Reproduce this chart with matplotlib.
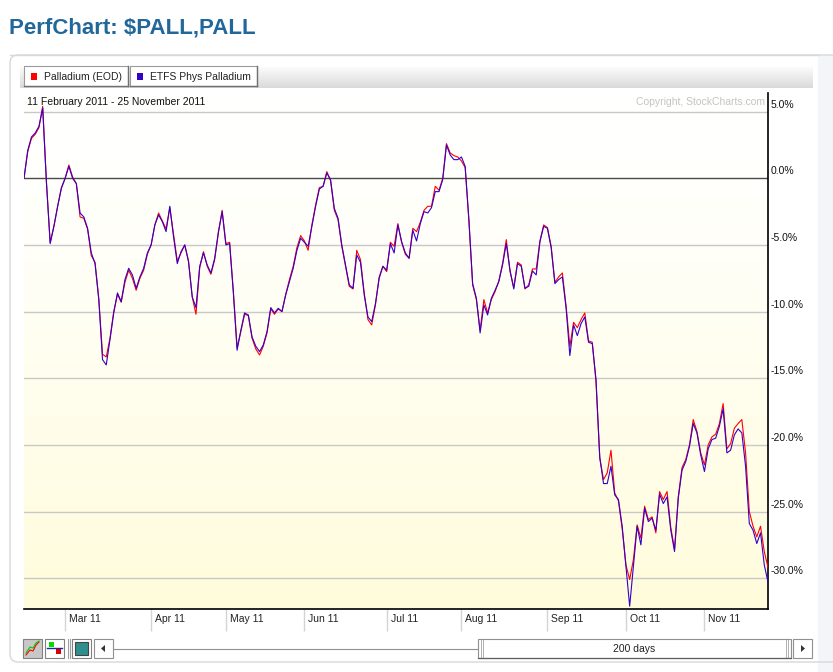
import numpy as np
import pandas as pd
import matplotlib
matplotlib.use("Agg")
import matplotlib.pyplot as plt
from matplotlib.patches import Rectangle, FancyBboxPatch, Polygon
from matplotlib.transforms import offset_copy
from matplotlib.colors import LinearSegmentedColormap

plt.rcParams['font.family'] = ['Liberation Sans', 'DejaVu Sans']

# ---------------- data ----------------
title = "PerfChart: $PALL,PALL"
series_names = ["Palladium (EOD)", "ETFS Phys Palladium"]
series_colors = ["#FF0000", "#3300CC"]
date_range_text = "11 February 2011 - 25 November 2011"
holidays = ["2011-02-21", "2011-04-22", "2011-05-30", "2011-07-04",
            "2011-09-05", "2011-11-24"]

palladium = [
    0.0, 2.0, 3.0, 3.3, 3.8, 5.4, -0.3, -4.8, -3.6, -2.1,
    -0.7, 0.0, 1.0, 0.1, -0.4, -2.9, -3.0, -3.8, -5.8, -6.3,
    -9.0, -13.2, -13.4, -12.0, -10.0, -8.7, -9.3, -7.8, -6.9, -7.5,
    -8.4, -7.5, -6.9, -5.7, -5.0, -3.5, -2.6, -3.2, -3.8, -2.2,
    -4.2, -6.2, -5.6, -5.0, -6.2, -8.9, -10.2, -6.7, -5.5, -6.6,
    -7.2, -6.1, -4.1, -2.4, -4.9, -4.8, -8.5, -12.7, -11.5, -10.2,
    -10.3, -12.0, -12.8, -13.25, -12.6, -11.6, -9.8, -10.2, -9.8, -10.0,
    -8.7, -7.6, -6.6, -5.2, -4.3, -4.7, -5.4, -3.5, -2.0, -0.7,
    -0.6, 0.5, -0.2, -2.4, -3.1, -5.1, -6.6, -8.1, -8.3, -5.4,
    -6.1, -8.6, -10.6, -11.0, -9.5, -7.4, -6.6, -7.0, -4.8, -5.1,
    -3.4, -4.8, -5.7, -6.0, -3.75, -4.0, -3.3, -2.4, -2.1, -2.1,
    -0.6, -0.9, 0.0, 2.6, 1.9, 1.7, 1.6, 1.3, 0.8, -3.2,
    -8.0, -9.1, -11.4, -9.1, -10.1, -9.1, -8.5, -7.7, -6.4, -4.6,
    -7.0, -8.2, -6.3, -6.5, -8.3, -8.0, -6.8, -6.8, -4.7, -3.5,
    -3.7, -5.1, -7.8, -7.4, -7.1, -9.6, -12.6, -10.8, -11.2, -10.6,
    -10.1, -12.2, -12.3, -15.3, -21.0, -22.6, -22.1, -20.4, -23.6, -24.2,
    -26.3, -29.0, -30.1, -28.6, -26.0, -27.0, -24.6, -25.6, -25.4, -26.6,
    -23.5, -24.1, -23.5, -26.2, -27.8, -23.9, -21.7, -21.1, -20.0, -18.1,
    -19.0, -20.6, -21.5, -20.0, -19.4, -19.2, -18.4, -16.9, -20.3, -19.9,
    -18.75, -18.4, -18.1, -20.6, -25.0, -26.1, -26.9, -26.1, -28.0, -29.2,
]

etfs_pall = [
    0.0, 2.1, 3.1, 3.4, 3.9, 5.25, -0.3, -4.9, -3.6, -2.1,
    -0.75, 0.0, 0.9, 0.0, -0.4, -2.6, -2.9, -3.75, -5.6, -6.4,
    -9.1, -13.6, -14.0, -12.1, -10.1, -8.6, -9.25, -7.6, -6.75, -7.25,
    -8.25, -7.4, -6.75, -5.6, -5.0, -3.5, -2.75, -3.25, -4.0, -2.1,
    -4.4, -6.4, -5.5, -5.0, -6.25, -8.9, -9.7, -6.6, -5.6, -6.5,
    -7.1, -6.0, -4.0, -2.5, -5.0, -4.9, -8.6, -12.9, -11.4, -10.1,
    -10.25, -11.9, -12.6, -13.0, -12.5, -11.5, -9.7, -10.1, -9.75, -10.0,
    -8.75, -7.75, -6.75, -5.4, -4.5, -4.8, -5.1, -3.6, -2.1, -0.8,
    -0.6, 0.4, -0.1, -2.25, -3.0, -5.0, -6.5, -8.0, -8.25, -5.75,
    -6.3, -8.75, -10.4, -10.75, -9.4, -7.5, -6.6, -6.9, -4.9, -5.6,
    -3.5, -4.75, -5.6, -6.0, -3.9, -4.7, -3.4, -2.5, -2.6, -2.2,
    -1.0, -1.0, -0.1, 2.5, 1.75, 1.4, 1.4, 1.6, 0.9, -3.1,
    -7.9, -9.0, -11.6, -9.5, -10.25, -9.0, -8.4, -7.75, -6.5, -4.9,
    -6.9, -8.3, -6.4, -6.6, -8.25, -8.1, -6.95, -7.25, -4.75, -3.6,
    -3.75, -5.2, -7.9, -7.6, -7.4, -9.75, -13.3, -11.0, -11.8, -10.9,
    -10.4, -12.3, -12.4, -15.1, -20.9, -22.9, -22.9, -21.6, -23.75, -24.1,
    -26.1, -29.1, -32.1, -29.1, -26.1, -27.5, -24.75, -25.75, -25.5, -26.4,
    -23.7, -24.4, -23.9, -26.4, -28.0, -24.0, -21.9, -21.25, -20.1, -18.4,
    -19.1, -20.75, -22.0, -20.3, -19.6, -19.5, -18.6, -17.3, -20.6, -20.4,
    -19.25, -18.8, -19.1, -21.6, -25.9, -26.4, -27.4, -26.6, -29.0, -30.3,
]

y_ticks = [5.0, 0.0, -5.0, -10.0, -15.0, -20.0, -25.0, -30.0]
window_label = "200 days"

dates = pd.bdate_range("2011-02-11", "2011-11-25", freq="C", holidays=holidays)
n = min(len(dates), len(palladium))
dates = dates[:n]
idx = np.arange(n)
month_pos = [i for i in range(1, n) if dates[i].month != dates[i - 1].month]
month_lbl = [dates[i].strftime("%b %y") for i in month_pos]

# ---------------- figure ----------------
W, H = 833, 672
fig = plt.figure(figsize=(W / 100, H / 100), dpi=100)
fig.patch.set_facecolor("white")

bg = fig.add_axes([0, 0, 1, 1])
bg.set_xlim(0, W)
bg.set_ylim(H, 0)
bg.axis("off")

bg.add_patch(Rectangle((818, 55), 20, 620, facecolor="#F3F5F8", edgecolor="none"))
bg.add_patch(FancyBboxPatch((10, 55), 840, 607, boxstyle="round,pad=0,rounding_size=8",
                            facecolor="none", edgecolor="#D8D8D8", lw=1.0))
bg.plot([10, 818], [55, 55], color="#D8D8D8", lw=1.0)

bg.text(9, 28, title, fontsize=16, fontweight="bold", color="#21679A",
        ha="left", va="center")

grad = np.linspace(0, 1, 50).reshape(-1, 1)
tb_cmap = LinearSegmentedColormap.from_list("tb", ["#FBFBFB", "#DADADA"])
bg.imshow(grad, extent=(20, 813, 88, 67), cmap=tb_cmap, aspect="auto", zorder=1)

btns = [(24, 128), (130, 257)]
for (x0, x1), name, col in zip(btns, series_names, series_colors):
    bg.add_patch(Rectangle((x0, 66), x1 - x0, 20, facecolor="white",
                           edgecolor="#9A9A9A", lw=0.8, zorder=2))
    bg.plot([x0 + 0.5, x1], [86, 86], color="#707070", lw=1.0, zorder=3)
    bg.plot([x1, x1], [66, 86], color="#707070", lw=1.0, zorder=3)
    bg.add_patch(Rectangle((x0 + 7, 73), 6.5, 6.5, facecolor=col, edgecolor="none", zorder=3))
    bg.text(x0 + 20, 77, name, fontsize=7.5, color="#222222", ha="left",
            va="center", zorder=3)

# ---------------- data axes ----------------
L, R, T, B = 24, 768, 93, 609
ax = fig.add_axes([L / W, (H - B) / H, (R - L) / W, (B - T) / H])
px_per_pct = 13.33
zero_px = 178.3
ymax = (zero_px - T) / px_per_pct
ymin = (zero_px - B) / px_per_pct
ax.set_xlim(0, n - 1)
ax.set_ylim(ymin, ymax)
ax.patch.set_alpha(0)

pl_cmap = LinearSegmentedColormap.from_list(
    "pl", [(0.0, "#FFFFFF"), (0.25, "#FFFFFA"), (0.6, "#FFFEEC"), (1.0, "#FFFCDC")])
ax.imshow(np.linspace(0, 1, 200).reshape(-1, 1), extent=(0, n - 1, ymin, ymax),
          cmap=pl_cmap, aspect="auto", zorder=0, origin="upper")

for v in y_ticks:
    if v == 0:
        ax.axhline(v, color="#4A4A4A", lw=1.0, zorder=1)
    else:
        ax.axhline(v, color="#C8C8C8", lw=1.0, zorder=1)

ax.plot(idx, palladium[:n], color=series_colors[0], lw=0.8, zorder=3)
ax.plot(idx, etfs_pall[:n], color=series_colors[1], lw=0.8, zorder=4)

for s in ["top", "left"]:
    ax.spines[s].set_visible(False)
ax.spines["right"].set_color("black")
ax.spines["bottom"].set_color("black")
ax.spines["right"].set_linewidth(1.2)
ax.spines["bottom"].set_linewidth(1.2)
ax.set_yticks([])
ax.set_xticks(month_pos)
ax.set_xticklabels([])
ax.tick_params(axis="x", direction="out", length=16, width=1.0, color="#D4D4D4")

fig.text(27, 102, date_range_text, transform=bg.transData, fontsize=7.5,
         color="#111111", ha="left", va="center")
fig.text(765, 102, "Copyright, StockCharts.com", transform=bg.transData,
         fontsize=7.5, color="#C4C4C4", ha="right", va="center")

ytr = offset_copy(ax.get_yaxis_transform(), fig=fig, x=3, y=7, units="dots")
for v in y_ticks:
    ax.text(1.0, v, f"{v:.1f}%", transform=ytr, fontsize=7.5, color="#111111",
            ha="left", va="center", clip_on=False)

xtr = offset_copy(ax.get_xaxis_transform(), fig=fig, x=4, y=-10, units="dots")
for p, lbl in zip(month_pos, month_lbl):
    ax.text(p, 0, lbl, transform=xtr, fontsize=7.5, color="#222222",
            ha="left", va="center", clip_on=False)

# ---------------- bottom toolbar ----------------
bz = 10
bg.add_patch(Rectangle((23, 639), 19, 19, facecolor="#C8C8C8", edgecolor="#808080", lw=0.8, zorder=bz))
bg.plot([26, 30, 33, 36, 39], [655, 650, 651, 645, 642], color="#FF0000", lw=0.8, zorder=bz + 1)
bg.plot([26, 30, 33, 36, 39], [653, 647, 648, 643, 641], color="#00CC00", lw=0.8, zorder=bz + 1)
bg.add_patch(Rectangle((45, 639), 19, 19, facecolor="white", edgecolor="#808080", lw=0.8, zorder=bz))
bg.add_patch(Rectangle((49, 642), 5, 5, facecolor="#00DD00", edgecolor="none", zorder=bz + 1))
bg.add_patch(Rectangle((56, 649), 5, 5, facecolor="#DD0000", edgecolor="none", zorder=bz + 1))
bg.plot([47, 62], [648, 648], color="#2222AA", lw=1.0, zorder=bz + 1)
bg.plot([68, 68], [639, 658], color="#A0A0A0", lw=0.8)
bg.plot([70, 70], [639, 658], color="#A0A0A0", lw=0.8)
bg.add_patch(Rectangle((72, 639), 19, 19, facecolor="white", edgecolor="#808080", lw=0.8, zorder=bz))
bg.add_patch(Rectangle((75, 642), 13, 13, facecolor="#2E8F8F", edgecolor="#444444", lw=0.8, zorder=bz + 1))
bg.add_patch(Rectangle((94, 639), 19, 19, facecolor="white", edgecolor="#909090", lw=0.8, zorder=bz))
bg.add_patch(Polygon([[101, 648.5], [105, 645], [105, 652]], closed=True,
                     facecolor="#333333", edgecolor="none", zorder=bz + 1))
bg.plot([113, 478], [648.5, 648.5], color="#909090", lw=0.8)
bg.add_patch(Rectangle((478, 639), 313, 19, facecolor="white", edgecolor="#909090", lw=0.8, zorder=bz))
for xx in (481, 483, 786, 788):
    bg.plot([xx, xx], [640, 657], color="#B0B0B0", lw=0.7, zorder=bz + 1)
bg.plot([478, 791], [658, 658], color="#606060", lw=0.9, zorder=bz + 1)
bg.text(634, 648.5, window_label, fontsize=7.5, color="#222222", ha="center",
        va="center", zorder=bz + 2)
bg.add_patch(Rectangle((793, 639), 19, 19, facecolor="white", edgecolor="#909090", lw=0.8, zorder=bz))
bg.add_patch(Polygon([[805, 648.5], [801, 645], [801, 652]], closed=True,
                     facecolor="#333333", edgecolor="none", zorder=bz + 1))

fig.savefig("out.png", dpi=100)
